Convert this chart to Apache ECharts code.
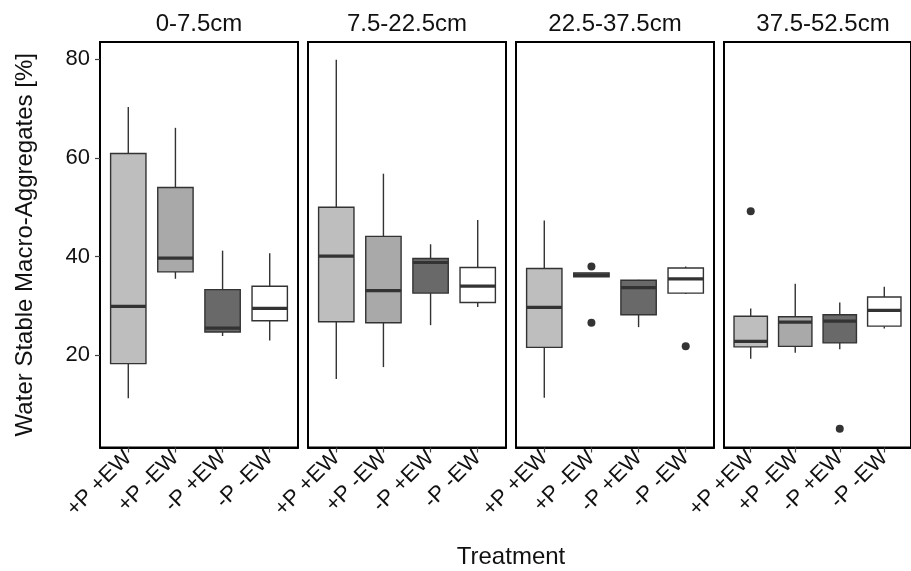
<!DOCTYPE html>
<html>
<head>
<meta charset="utf-8">
<script src="https://cdn.jsdelivr.net/npm/echarts@6/dist/echarts.min.js"></script>
<style>
html,body{margin:0;padding:0;background:#fff;}
#chart{width:911px;height:571px;}
</style>
</head>
<body>
<div id="chart"></div>
<script>
// ---- data ----
const treatments = ['+P +EW', '+P -EW', '-P +EW', '-P -EW'];
const depths = ['0-7.5cm', '7.5-22.5cm', '22.5-37.5cm', '37.5-52.5cm'];
const yTicks = [20, 40, 60, 80];
// each row: [lower whisker, Q1, median, Q3, upper whisker] per treatment
const depth1 = [[11.3, 18.3, 29.9, 60.9, 70.3], [35.5, 36.9, 39.7, 54.0, 66.1], [23.9, 24.7, 25.5, 33.3, 41.2], [23.0, 27.0, 29.5, 34.0, 40.7]];
const depth2 = [[15.2, 26.8, 40.1, 50.0, 79.9], [17.6, 26.6, 33.1, 44.1, 56.8], [26.1, 32.6, 38.8, 39.6, 42.5], [29.8, 30.7, 34.0, 37.8, 47.4]];
const depth3 = [[11.4, 21.6, 29.7, 37.6, 47.3], [35.9, 35.9, 36.3, 36.7, 36.7], [25.7, 28.2, 33.7, 35.2, 35.3], [32.4, 32.6, 35.5, 37.7, 38.0]];
const depth4 = [[19.3, 21.7, 22.8, 27.9, 29.5], [20.5, 21.8, 26.7, 27.8, 34.5], [21.2, 22.5, 26.9, 28.2, 30.7], [25.4, 25.9, 29.1, 31.8, 33.9]];
// outliers: [treatment index (1-based), value]
const outliers1 = [];
const outliers2 = [];
const outliers3 = [[2, 38.0], [2, 26.6], [4, 21.8]];
const outliers4 = [[1, 49.2], [3, 5.1]];

const boxData = [depth1, depth2, depth3, depth4];
const outlierData = [outliers1, outliers2, outliers3, outliers4];
const fills = ['#BEBEBE', '#A9A9A9', '#696969', '#FFFFFF'];
const lineCol = '#333333';
const FONT = '"Liberation Sans", Arial, Helvetica, sans-serif';

const chart = echarts.init(document.getElementById('chart'), null, {renderer: 'canvas'});

const lefts = [100, 308, 516, 724];
const panelW = 198;
const gridTop = 42, gridH = 405.5;

function renderItem(params, api) {
  const x = api.value(0);
  const lo = api.coord([x, api.value(1)]);
  const q1 = api.coord([x, api.value(2)]);
  const md = api.coord([x, api.value(3)]);
  const q3 = api.coord([x, api.value(4)]);
  const hi = api.coord([x, api.value(5)]);
  const hw = api.size([0.75, 0])[0] / 2;
  const cx = q1[0];
  const st = {stroke: lineCol, lineWidth: 1.4};
  return {
    type: 'group',
    children: [
      {type: 'line', shape: {x1: cx, y1: hi[1], x2: cx, y2: q3[1]}, style: st},
      {type: 'line', shape: {x1: cx, y1: q1[1], x2: cx, y2: lo[1]}, style: st},
      {type: 'rect', shape: {x: cx - hw, y: q3[1], width: 2 * hw, height: q1[1] - q3[1]},
        style: {fill: fills[x - 1], stroke: lineCol, lineWidth: 1.4}},
      {type: 'line', shape: {x1: cx - hw, y1: md[1], x2: cx + hw, y2: md[1]},
        style: {stroke: lineCol, lineWidth: 3.2}}
    ]
  };
}

const grids = [], xAxes = [], yAxes = [], series = [], graphics = [];
for (let i = 0; i < 4; i++) {
  grids.push({left: lefts[i], top: gridTop, width: panelW, height: gridH, show: true,
    borderColor: '#000', borderWidth: 2, backgroundColor: 'transparent'});
  xAxes.push({
    type: 'value', gridIndex: i, min: 0.4, max: 4.6,
    splitLine: {show: false},
    axisLine: {show: true, onZero: false, lineStyle: {color: '#000', width: 2}},
    axisTick: {show: true, length: 5, customValues: [1, 2, 3, 4], lineStyle: {color: '#444', width: 1.2}},
    axisLabel: {
      customValues: [1, 2, 3, 4], rotate: 45, margin: 7,
      fontSize: 22, color: '#111', fontFamily: FONT,
      formatter: v => treatments[Math.round(v) - 1]
    }
  });
  yAxes.push({
    type: 'value', gridIndex: i, min: 1.3, max: 83.5,
    show: i === 0,
    splitLine: {show: false},
    name: i === 0 ? 'Water Stable Macro-Aggregates [%]' : '',
    nameLocation: 'middle', nameGap: 63,
    nameTextStyle: {fontSize: 24, color: '#111', fontFamily: FONT},
    axisLine: {show: true, lineStyle: {color: '#000', width: 2}},
    axisTick: {show: true, length: 5, customValues: yTicks, lineStyle: {color: '#444', width: 1.2}},
    axisLabel: {customValues: yTicks, margin: 10, fontSize: 22, color: '#111', fontFamily: FONT}
  });
  series.push({
    type: 'custom', xAxisIndex: i, yAxisIndex: i,
    renderItem: renderItem,
    encode: {x: 0, y: [1, 2, 3, 4, 5]},
    data: boxData[i].map((r, j) => [j + 1].concat(r)),
    z: 2
  });
  series.push({
    type: 'scatter', xAxisIndex: i, yAxisIndex: i,
    data: outlierData[i], symbolSize: 8,
    itemStyle: {color: lineCol, opacity: 1}, z: 3
  });
  graphics.push({
    type: 'text', x: lefts[i] + panelW / 2, y: 24,
    style: {text: depths[i], fontSize: 24, fill: '#111', fontFamily: FONT,
      textAlign: 'center', textVerticalAlign: 'middle'}
  });
}
graphics.push({
  type: 'text', x: 511, y: 557,
  style: {text: 'Treatment', fontSize: 24, fill: '#111', fontFamily: FONT,
    textAlign: 'center', textVerticalAlign: 'middle'}
});

chart.setOption({
  animation: false,
  backgroundColor: '#fff',
  grid: grids,
  xAxis: xAxes,
  yAxis: yAxes,
  series: series,
  graphic: graphics
});
</script>
</body>
</html>
